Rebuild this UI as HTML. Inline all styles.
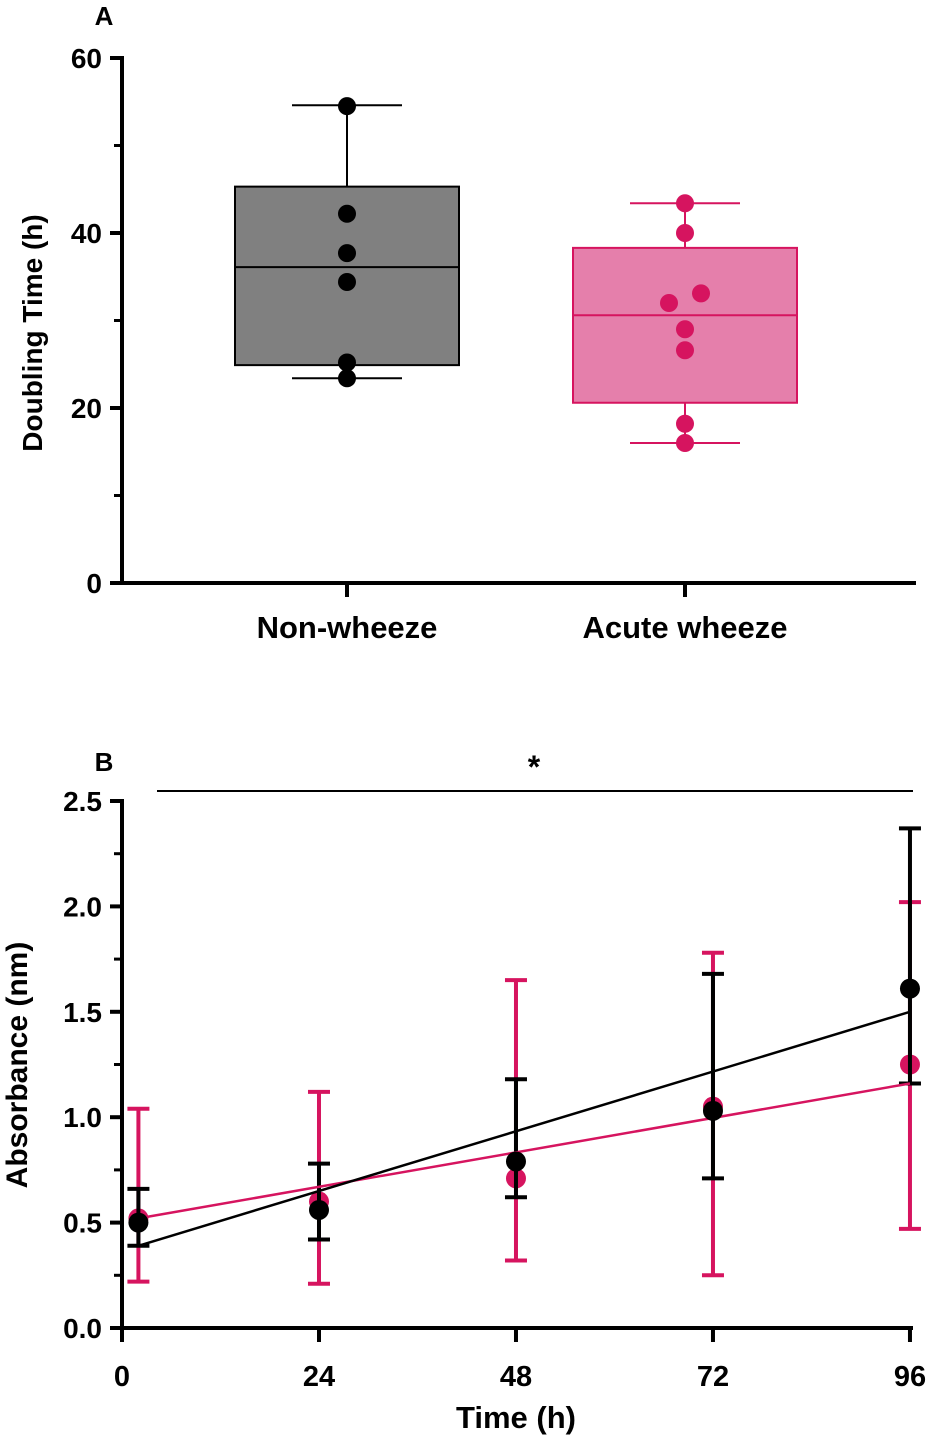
<!DOCTYPE html>
<html><head><meta charset="utf-8"><style>
body{margin:0;background:#fff;}
svg{display:block;font-family:"Liberation Sans",sans-serif;font-weight:bold;}
</style></head><body>
<svg id="c" width="931" height="1436" viewBox="0 0 931 1436"></svg>
<script>
// Panel A data
const groupsA = ["Non-wheeze","Acute wheeze"];
const boxQ1 = [24.9, 20.6];
const boxMedian = [36.1, 30.6];
const boxQ3 = [45.3, 38.3];
const whiskLow = [23.4, 16.0];
const whiskHigh = [54.6, 43.4];
const pointsNW = [54.5, 42.2, 37.7, 34.4, 25.2, 23.4];
const pointsAW = [43.4, 40.0, 33.1, 32.0, 29.0, 26.6, 18.2, 16.0];
const ticksA = [0, 20, 40, 60];
// Panel B data
const timesB = [2, 24, 48, 72, 96];
const pinkMean = [0.52, 0.60, 0.71, 1.05, 1.25];
const pinkLow = [0.22, 0.21, 0.32, 0.25, 0.47];
const pinkHigh = [1.04, 1.12, 1.65, 1.78, 2.02];
const blackMean = [0.50, 0.56, 0.79, 1.03, 1.61];
const blackLow = [0.39, 0.42, 0.62, 0.71, 1.16];
const blackHigh = [0.66, 0.78, 1.18, 1.68, 2.37];
const pinkFit = [0.52, 1.16];
const blackFit = [0.39, 1.50];
const ticksBx = [0, 24, 48, 72, 96];
const ticksBy = ["0.0","0.5","1.0","1.5","2.0","2.5"];

const svg = document.getElementById('c');
const NS = "http://www.w3.org/2000/svg";
function mk(tag, at, name, parent){
  const e = document.createElementNS(NS, tag);
  for (const k in at) e.setAttribute(k, at[k]);
  
  
  (parent||svg).appendChild(e); return e;
}
function txt(x,y,s,size,name,anchor,extra){
  const t = mk('text',Object.assign({x:x,y:y,'font-size':size,'text-anchor':anchor||'middle',fill:'#000'},extra||{}),name);
  t.textContent = s; return t;
}
const PINK = "#d6145f";
// ---------- Panel A ----------
const yA = v => 583 - v*8.75;
const xA = [347, 685];
txt(104, 25, "A", 26, "panel-a-label");
mk('line',{x1:122,y1:56,x2:122,y2:585,stroke:'#000','stroke-width':4},"y-axis-a");
mk('line',{x1:120,y1:583,x2:916,y2:583,stroke:'#000','stroke-width':4},"x-axis-a");
for (const v of ticksA){
  mk('line',{x1:110,y1:yA(v),x2:122,y2:yA(v),stroke:'#000','stroke-width':4},"y-tick-a");
  txt(102, yA(v)+10, String(v), 28, "y-tick-label-a", "end");
}
for (const v of [10,30,50]) mk('line',{x1:114,y1:yA(v),x2:122,y2:yA(v),stroke:'#000','stroke-width':3},"y-minor-tick-a");
txt(42, 333, "Doubling Time (h)", 28, "y-axis-title-a", "middle", {transform:"rotate(-90 42 333)"});
groupsA.forEach((g,i)=>{
  mk('line',{x1:xA[i],y1:583,x2:xA[i],y2:597,stroke:'#000','stroke-width':4},"x-tick-a");
  txt(xA[i], 638, g, 31, "x-tick-label-a");
  const col = i===0 ? "#000" : PINK;
  const fill = i===0 ? "#808080" : "#e57fab";
  const hw = 112;
  mk('line',{x1:xA[i],y1:yA(whiskHigh[i]),x2:xA[i],y2:yA(boxQ3[i]),stroke:col,'stroke-width':2},"whisker-upper");
  mk('line',{x1:xA[i],y1:yA(whiskLow[i]),x2:xA[i],y2:yA(boxQ1[i]),stroke:col,'stroke-width':2},"whisker-lower");
  mk('line',{x1:xA[i]-55,y1:yA(whiskHigh[i]),x2:xA[i]+55,y2:yA(whiskHigh[i]),stroke:col,'stroke-width':2},"whisker-cap-upper");
  mk('line',{x1:xA[i]-55,y1:yA(whiskLow[i]),x2:xA[i]+55,y2:yA(whiskLow[i]),stroke:col,'stroke-width':2},"whisker-cap-lower");
  mk('rect',{x:xA[i]-hw,y:yA(boxQ3[i]),width:2*hw,height:yA(boxQ1[i])-yA(boxQ3[i]),fill:fill,stroke:col,'stroke-width':2},"box-"+(i===0?"non-wheeze":"acute-wheeze"));
  mk('line',{x1:xA[i]-hw,y1:yA(boxMedian[i]),x2:xA[i]+hw,y2:yA(boxMedian[i]),stroke:col,'stroke-width':2},"median-line");
});
const offNW = [0,0,0,0,0,0];
pointsNW.forEach((v,j)=>mk('circle',{cx:xA[0]+offNW[j],cy:yA(v),r:9,fill:'#000'},"point-non-wheeze"));
const offAW = [0,0,16,-16,0,0,0,0];
pointsAW.forEach((v,j)=>mk('circle',{cx:xA[1]+offAW[j],cy:yA(v),r:9,fill:PINK},"point-acute-wheeze"));
// ---------- Panel B ----------
const xB = t => 122 + t*8.208;
const yB = v => 1328 - v*210.8;
txt(104, 771, "B", 26, "panel-b-label");
mk('line',{x1:157,y1:791,x2:913,y2:791,stroke:'#000','stroke-width':2},"significance-bar");
txt(534, 778, "*", 32, "significance-star");
mk('line',{x1:122,y1:799,x2:122,y2:1330,stroke:'#000','stroke-width':4},"y-axis-b");
mk('line',{x1:120,y1:1328,x2:913,y2:1328,stroke:'#000','stroke-width':4},"x-axis-b");
ticksBy.forEach(s=>{
  const v = parseFloat(s);
  mk('line',{x1:110,y1:yB(v),x2:122,y2:yB(v),stroke:'#000','stroke-width':4},"y-tick-b");
  txt(102, yB(v)+10, s, 28, "y-tick-label-b", "end");
  if (v<2.5) mk('line',{x1:114,y1:yB(v+0.25),x2:122,y2:yB(v+0.25),stroke:'#000','stroke-width':3},"y-minor-tick-b");
});
ticksBx.forEach(t=>{
  mk('line',{x1:xB(t),y1:1328,x2:xB(t),y2:1342,stroke:'#000','stroke-width':4},"x-tick-b");
  txt(xB(t), 1386, String(t), 29, "x-tick-label-b");
});
txt(516, 1428, "Time (h)", 31, "x-axis-title-b");
txt(27, 1065, "Absorbance (nm)", 30, "y-axis-title-b", "middle", {transform:"rotate(-90 27 1065)"});
function series(mean, lo, hi, col, name){
  timesB.forEach((t,i)=>{
    const x = xB(t);
    mk('line',{x1:x,y1:yB(lo[i]),x2:x,y2:yB(hi[i]),stroke:col,'stroke-width':4},name+"-error-bar");
    mk('line',{x1:x-11,y1:yB(lo[i]),x2:x+11,y2:yB(lo[i]),stroke:col,'stroke-width':4},name+"-error-cap");
    mk('line',{x1:x-11,y1:yB(hi[i]),x2:x+11,y2:yB(hi[i]),stroke:col,'stroke-width':4},name+"-error-cap");
  });
}
series(pinkMean,pinkLow,pinkHigh,PINK,"acute-wheeze");
timesB.forEach((t,i)=>mk('circle',{cx:xB(t),cy:yB(pinkMean[i]),r:10,fill:PINK},"acute-wheeze-point"));
series(blackMean,blackLow,blackHigh,"#000","non-wheeze");
mk('line',{x1:xB(timesB[0]),y1:yB(pinkFit[0]),x2:xB(96),y2:yB(pinkFit[1]),stroke:PINK,'stroke-width':2.5},"acute-wheeze-fit-line");
mk('line',{x1:xB(timesB[0]),y1:yB(blackFit[0]),x2:xB(96),y2:yB(blackFit[1]),stroke:'#000','stroke-width':2.5},"non-wheeze-fit-line");
timesB.forEach((t,i)=>mk('circle',{cx:xB(t),cy:yB(blackMean[i]),r:10,fill:'#000'},"non-wheeze-point"));
</script>
</body></html>
